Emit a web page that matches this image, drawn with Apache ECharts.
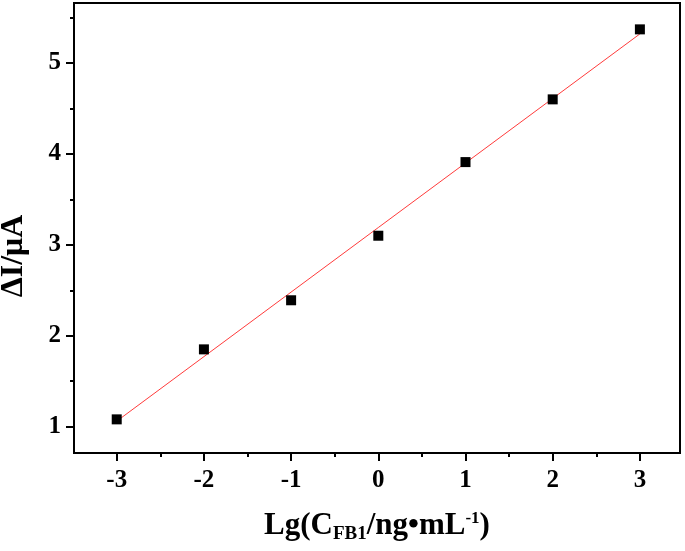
<!DOCTYPE html>
<html>
<head>
<meta charset="utf-8">
<script src="https://cdn.jsdelivr.net/npm/echarts@6/dist/echarts.min.js"></script>
<style>
html,body{margin:0;padding:0;background:#fff;}
#chart{width:685px;height:551px;}
</style>
</head>
<body>
<div id="chart"></div>
<script>
// Data
var concLog = [-3, -2, -1, 0, 1, 2, 3];
var deltaI = [1.08, 1.85, 2.39, 3.10, 3.91, 4.60, 5.37];
// Fitted line endpoints
var fitX = [-3, 3];
var fitY = [1.06, 5.32];
// Tick values
var xMajorTicks = [-3, -2, -1, 0, 1, 2, 3];
var xMinorTicks = [-3.5, -2.5, -1.5, -0.5, 0.5, 1.5, 2.5];
var yMajorTicks = [1, 2, 3, 4, 5];
var yMinorTicks = [1.5, 2.5, 3.5, 4.5, 5.5];

var FONT = "'Liberation Serif','Times New Roman',serif";
var chart = echarts.init(document.getElementById('chart'), null, {renderer: 'canvas'});

var xRange = {min: -3.49, max: 3.46};
var yRange = {min: 0.71, max: 5.66};

var option = {
  animation: false,
  backgroundColor: '#fff',
  grid: {
    left: 74, right: 5, top: 3, bottom: 98,
    containLabel: false, outerBoundsMode: 'none',
    show: true, borderColor: '#000', borderWidth: 2, backgroundColor: 'transparent'
  },
  xAxis: [{
    type: 'value', min: xRange.min, max: xRange.max, position: 'bottom',
    splitLine: {show: false},
    axisLine: {show: true, onZero: false, lineStyle: {color: '#000', width: 2}},
    axisTick: {show: true, inside: false, length: 8, customValues: xMajorTicks, lineStyle: {color: '#000', width: 2}},
    axisLabel: {
      show: true, customValues: xMajorTicks, margin: 15, color: '#000',
      fontFamily: FONT, fontWeight: 'bold', fontSize: 25,
      formatter: function (v) { return String(v); }
    },
    name: '{a|Lg(C}{sub|FB1}{a|/ng•mL}{sup|-1}{a|)}',
    nameLocation: 'middle', nameGap: 56,
    nameTextStyle: {
      rich: {
        a: {fontFamily: FONT, fontWeight: 'bold', fontSize: 31, color: '#000', lineHeight: 34},
        sub: {fontFamily: FONT, fontWeight: 'bold', fontSize: 19, color: '#000', lineHeight: 34, padding: [16, 0, 0, 0]},
        sup: {fontFamily: FONT, fontWeight: 'bold', fontSize: 17, color: '#000', lineHeight: 34, padding: [0, 0, 14, 0]}
      }
    }
  }, {
    type: 'value', min: xRange.min, max: xRange.max, position: 'bottom',
    splitLine: {show: false},
    axisLine: {show: false, onZero: false},
    axisTick: {show: true, inside: false, length: 4, customValues: xMinorTicks, lineStyle: {color: '#000', width: 2}},
    axisLabel: {show: false}
  }],
  yAxis: [{
    type: 'value', min: yRange.min, max: yRange.max, position: 'left',
    splitLine: {show: false},
    axisLine: {show: true, onZero: false, lineStyle: {color: '#000', width: 2}},
    axisTick: {show: true, inside: false, length: 8, customValues: yMajorTicks, lineStyle: {color: '#000', width: 2}},
    axisLabel: {
      show: true, customValues: yMajorTicks, margin: 13, color: '#000',
      fontFamily: FONT, fontWeight: 'bold', fontSize: 25,
      formatter: function (v) { return String(v); }
    },
    name: 'ΔI/μA',
    nameLocation: 'middle', nameGap: 44, nameRotate: 90,
    nameTextStyle: {
      fontFamily: FONT, fontWeight: 'bold', fontSize: 32, color: '#000',
      padding: [0, 56, 0, 0]
    }
  }, {
    type: 'value', min: yRange.min, max: yRange.max, position: 'left',
    splitLine: {show: false},
    axisLine: {show: false, onZero: false},
    axisTick: {show: true, inside: false, length: 4, customValues: yMinorTicks, lineStyle: {color: '#000', width: 2}},
    axisLabel: {show: false}
  }],
  series: [{
    type: 'line',
    xAxisIndex: 0, yAxisIndex: 0,
    data: fitX.map(function (x, i) { return [x, fitY[i]]; }),
    showSymbol: false, symbol: 'none',
    lineStyle: {color: '#ff3b3b', width: 1},
    z: 2
  }, {
    type: 'scatter',
    xAxisIndex: 0, yAxisIndex: 0,
    data: concLog.map(function (x, i) { return [x, deltaI[i]]; }),
    symbol: 'rect', symbolSize: 10,
    itemStyle: {color: '#000', opacity: 1},
    z: 3
  }]
};
chart.setOption(option);
</script>
</body>
</html>
